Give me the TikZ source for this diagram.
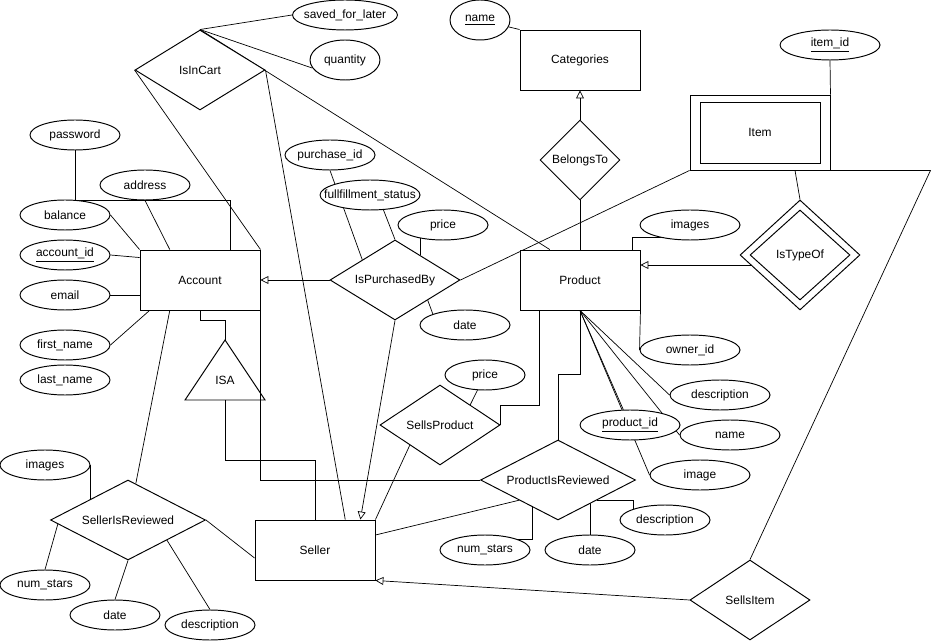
\documentclass[tikz,border=0pt]{standalone}
\usepackage{fontspec}
\setmainfont{Liberation Sans}
\usetikzlibrary{shapes, arrows.meta, calc, backgrounds}

\tikzset{
	zerow/.style={execute at begin node={\hbox to 0pt\bgroup\hss}, execute at end node={\hss\egroup}},
	ent/.style={draw, rectangle, fill=white, inner sep=0pt, minimum width=2.4cm, minimum height=1.2cm},
	rel/.style 2 args={draw, diamond, fill=white, inner sep=0pt, minimum width=#1, minimum height=#2, zerow},
	attr/.style={draw, ellipse, fill=white, inner sep=0pt, minimum width=1.8cm, minimum height=0.6cm, zerow},
	toent/.style={-{Triangle[open, length=4.5pt, width=4.5pt]}}
}

\begin{document}
\begin{tikzpicture}[x=0.02cm, y=-0.02cm, line width=0.55pt, font=\fontsize{6.8pt}{8pt}\selectfont]
		\useasboundingbox (0,0) rectangle (932,641);
		
		% entita
		\node[ent] (acc) at (200,280) {Account};
		\node[ent] (cat) at (580,60) {Categories};
		\node[ent] (prod) at (580,280) {Product};
		\node[ent] (sel) at (315,550) {Seller};
		\node[ent, minimum width=2.8cm, minimum height=1.5cm] (item) at (760,132.5) {};
		\node[ent, minimum width=2.4cm, minimum height=1.22cm] (itemin) at (760,132.5) {Item};
		
		% relazioni
		\node[rel={2.6cm}{1.6cm}] (cart) at (200,70) {IsInCart};
		\node[rel={1.6cm}{1.6cm}] (belongs) at (580,160) {BelongsTo};
		\node[rel={2.6cm}{1.6cm}] (purch) at (395,280) {IsPurchasedBy};
		\node[rel={2.4cm}{2.2cm}] (typeof) at (800,255) {};
		\node[rel={2.0cm}{1.8cm}] (typeofin) at (800,255) {IsTypeOf};
		\node[rel={2.4cm}{1.6cm}] (sellsp) at (440,425) {SellsProduct};
		\node[rel={3.1cm}{1.6cm}] (prev) at (558,480) {ProductIsReviewed};
		\node[rel={3.1cm}{1.6cm}] (srev) at (128,520) {SellerIsReviewed};
		\node[rel={2.4cm}{1.6cm}] (sellsi) at (750,600) {SellsItem};
		
		% ISA
		\draw (225,340) coordinate (isatop) -- (265,400) -- (185,400) -- cycle;
		\coordinate (isabase) at (225,400);
		\node (isa) at (225,380) {ISA};
		
		% attributi IsInCart
		\node[attr, minimum width=2.1cm] (saved) at (345,15) {saved\_for\_later};
		\node[attr, minimum width=1.4cm, minimum height=0.8cm] (qty) at (345,60) {quantity};
		
		% attributi Account
		\node[attr] (pw) at (75,135) {password};
		\node[attr] (addr) at (145,185) {address};
		\node[attr] (bal) at (65,215) {balance};
		\node[attr] (accid) at (65,255) {\underline{account\_id}};
		\node[attr] (email) at (65,295) {email};
		\node[attr] (fname) at (65,345) {first\_name};
		\node[attr] (lname) at (65,380) {last\_name};
		
		% attributi IsPurchasedBy
		\node[attr] (purchid) at (330,155) {purchase\_id};
		\node[attr, minimum width=2.0cm] (status) at (370,195) {fullfillment\_status};
		\node[attr] (pprice) at (443,225) {price};
		\node[attr] (pdate) at (465,325) {date};
		
		% attributi Categories, Item
		\node[attr, minimum width=1.2cm, minimum height=0.8cm] (cname) at (480,20) {\underline{name}};
		\node[attr, minimum width=2.0cm] (itemid) at (830,45) {\underline{item\_id}};
		
		% attributi Product
		\node[attr, minimum width=2.0cm] (pimages) at (690,225) {images};
		\node[attr, minimum width=2.0cm] (owner) at (690,350) {owner\_id};
		\node[attr, minimum width=2.0cm] (pdesc) at (720,395) {description};
		\node[attr, minimum width=2.0cm] (pid) at (630,425) {\underline{product\_id}};
		\node[attr, minimum width=2.0cm] (pname) at (730,435) {name};
		\node[attr, minimum width=2.0cm] (pimage) at (700,475) {image};
		
		% attributi SellsProduct, ProductIsReviewed
		\node[attr, minimum width=1.6cm] (spprice) at (485,375) {price};
		\node[attr] (rstars) at (485,550) {num\_stars};
		\node[attr] (rdate) at (590,550) {date};
		\node[attr] (rdesc) at (665,520) {description};
		
		% attributi SellerIsReviewed
		\node[attr] (simg) at (45,465) {images};
		\node[attr] (sstars) at (45,585) {num\_stars};
		\node[attr] (sdate) at (115,615) {date};
		\node[attr] (sdesc) at (210,625) {description};
		
		\begin{scope}[on background layer, line width=0.55pt]
		% IsInCart
		\draw (cart.north) -- (saved.west);
		\draw (cart.north) -- (qty.194);
		\draw (cart.north) -- ($(prod.north west)!0.25!(prod.north east)$);
		\draw (cart.west) -- (acc.north east);
		\draw (cart.east) -- ($(sel.north west)!0.75!(sel.north east)$);
		
		% Account
		\draw (pw.south) -- ++(0,50) -| ($(acc.north)!0.5!(acc.north east)$);
		\draw (addr.south) -- ($(acc.north west)!0.25!(acc.north east)$);
		\draw (bal.east) -- (acc.north west);
		\draw (accid.east) -- ($(acc.north west)+(0,8)$);
		\draw (email.east) -- (acc.west |- email.east);
		\draw (fname.east) -- ($(acc.south west)+(10,0)$);
		\draw ($(acc.south west)!0.25!(acc.south east)$) -- ($(srev.north)!0.1!(srev.east)$);
		
		% ISA
		\draw (acc.south) -- ++(0,10) -| (isatop);
		\draw (isabase) -- ++(0,60) -| (sel.north);
		\draw (acc.south east) |- (prev.west);
		
		% IsPurchasedBy
		\draw[toent] (purch.west) -- (acc.east);
		\draw[toent] (purch.south) -- ($(sel.north west)!0.875!(sel.north east)$);
		\draw (purch.east) -- (item.south west);
		\draw (purchid.south) -- (purch.north west);
		\draw (status.-48) -- (purch.north);
		\path ($(purch.north)!0.385!(purch.east)$) coordinate (pp);
		\draw (pp) -- (pp |- pprice.center);
		\draw (purch.south east) -- (pdate.north west);
		
		% Product
		\draw (prod.north) -- (belongs.south);
		\draw[toent] (belongs.north) -- (cat.south);
		\draw (cname) -- (cat.north west);
		\draw ($(prod.north east)+(-8,0)$) |- ($(pimages.center)+(0,12)$);
		\draw (prod.south east) -- (owner.west);
		\draw (prod.south) -- (pdesc.west);
		\draw (prod.south) -- (pname.west);
		\draw (prod.south) -- (pid);
		\draw (prod.south) -- (pimage.west);
		
		% Item
		\draw[toent] ($(typeof.center)+(0,10)$) -- ($(prod.east)+(0,-15)$);
		\draw (typeof.north) -- ($(item.south)+(35,0)$);
		\draw (itemid.south) -- (item.north east);
		\draw (item.south east) -- ++(100,0) -- (sellsi.north);
		\draw[toent] (sellsi.west) -- (sel.south east);
		
		% SellsProduct
		\draw (spprice) -- (sellsp.north east);
		\draw (sellsp.east) -- ++(0,-20) -| ($(prod.south west)+(20,0)$);
		\draw (sellsp.south west) -- (sel.north east);
		
		% ProductIsReviewed
		\draw (prev.north) -- ++(0,-65) -| (prod.south);
		\draw (prev.south west) -- ($(sel.east)+(0,-15)$);
		\path ($(prev.west)!0.667!(prev.south)$) coordinate (rs);
		\draw (rs) |- ($(rstars.center)+(0,-11)$);
		\draw (rdate) -- (rdate |- prev.south east);
		\draw (prev.south east) -| ($(rdesc.center)+(-32,0)$);
		
		% SellerIsReviewed
		\draw (simg.east) -- (simg.east |- srev.center);
		\draw ($(srev.west)!0.1!(srev.south)$) -- (sstars.north);
		\draw (srev.south) -- (sdate.north);
		\draw (srev.south east) -- (sdesc.north);
		\draw (srev.east) -- ($(sel.west)+(0,8)$);
		\end{scope}
\end{tikzpicture}
\end{document}
